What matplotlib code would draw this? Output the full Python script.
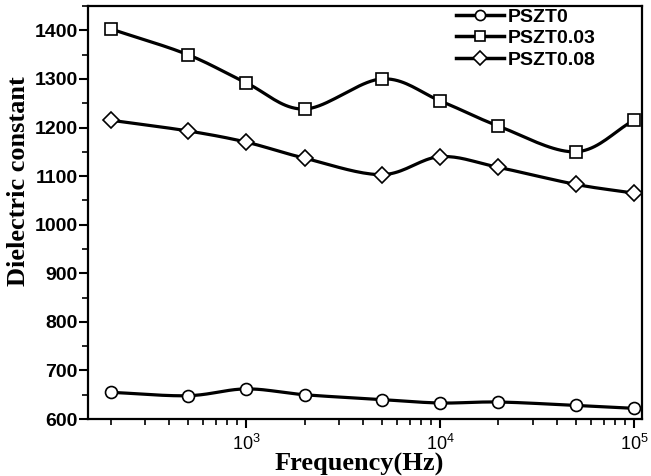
import numpy as np
import matplotlib
matplotlib.use("Agg")
import matplotlib.pyplot as plt
from matplotlib.ticker import LogLocator, MultipleLocator, NullFormatter

# frequency (Hz) and dielectric constant
freq = [200, 500, 1000, 2000, 5000, 10000, 20000, 50000, 100000]
pszt0 = [655, 648, 662, 650, 640, 633, 635, 628, 622]
pszt003 = [1403, 1350, 1292, 1238, 1300, 1255, 1203, 1150, 1215]
pszt008 = [1215, 1193, 1170, 1137, 1103, 1140, 1118, 1083, 1065]
labels = ["PSZT0", "PSZT0.03", "PSZT0.08"]
markers = ["o", "s", "D"]

plt.rcParams["font.family"] = "Liberation Sans"
plt.rcParams["mathtext.fontset"] = "custom"
plt.rcParams["mathtext.rm"] = "Liberation Sans"
plt.rcParams["mathtext.it"] = "Liberation Sans:italic"
plt.rcParams["mathtext.bf"] = "Liberation Sans:bold"


def smooth(x, y, n=20):
    # Catmull-Rom curve through the points, done in log-x space
    lx = np.log10(np.array(x, float))
    y = np.array(y, float)
    px = np.concatenate([[2 * lx[0] - lx[1]], lx, [2 * lx[-1] - lx[-2]]])
    py = np.concatenate([[2 * y[0] - y[1]], y, [2 * y[-1] - y[-2]]])
    xs, ys = [], []
    t = np.linspace(0, 1, n, endpoint=False)
    for i in range(1, len(px) - 2):
        for p, out in ((px, xs), (py, ys)):
            p0, p1, p2, p3 = p[i - 1], p[i], p[i + 1], p[i + 2]
            out.extend(0.5 * ((2 * p1) + (-p0 + p2) * t
                              + (2 * p0 - 5 * p1 + 4 * p2 - p3) * t ** 2
                              + (-p0 + 3 * p1 - 3 * p2 + p3) * t ** 3))
    xs.append(lx[-1])
    ys.append(y[-1])
    return 10 ** np.array(xs), np.array(ys)


fig = plt.figure(figsize=(6.51, 4.76), dpi=100)
ax = fig.add_axes([0.1352, 0.1197, 0.851, 0.8676])

for vals, lab, mk in zip([pszt0, pszt003, pszt008], labels, markers):
    sx, sy = smooth(freq, vals)
    ax.plot(sx, sy, color="black", lw=2.3, zorder=2)
    ms = 7.8 if mk == "D" else 8.6
    ax.plot(freq, vals, linestyle="none", marker=mk, ms=ms, mfc="white",
            mec="black", mew=1.2, zorder=3)
    # proxy for the legend
    ax.plot([], [], color="black", lw=2.5, marker=mk, ms=ms, mfc="white",
            mec="black", mew=1.2, label=lab)

ax.set_xscale("log")
ax.set_xlim(153, 110000)
ax.set_ylim(600, 1450)

ax.xaxis.set_major_locator(LogLocator(base=10, numticks=10))
ax.xaxis.set_minor_locator(LogLocator(base=10, subs=np.arange(2, 10), numticks=20))
ax.xaxis.set_minor_formatter(NullFormatter())
ax.yaxis.set_major_locator(MultipleLocator(100))
ax.yaxis.set_minor_locator(MultipleLocator(50))

ax.tick_params(which="major", direction="out", length=6.5, width=1.5)
ax.tick_params(which="minor", direction="out", length=4, width=1.2)
ax.tick_params(axis="y", labelsize=14, pad=1)
ax.tick_params(axis="x", labelsize=13, pad=4)
for lbl in ax.get_yticklabels():
    lbl.set_fontweight("bold")

for sp in ax.spines.values():
    sp.set_linewidth(1.6)

ax.set_xlabel("Frequency(Hz)", fontfamily="Liberation Serif", fontweight="bold",
              fontsize=19)
ax.xaxis.set_label_coords(0.49, -0.082)
ax.set_ylabel("Dielectric constant", fontfamily="Liberation Serif",
              fontweight="bold", fontsize=19)
ax.yaxis.set_label_coords(-0.104, 0.575)

leg = ax.legend(loc="upper left", bbox_to_anchor=(0.664, 0.995), frameon=False,
                handlelength=2.5, handletextpad=0.15, labelspacing=0.2,
                borderpad=0, borderaxespad=0, markerscale=0.85,
                prop={"family": "Liberation Sans", "weight": "bold", "size": 14})

fig.savefig("out.png", dpi=100)
